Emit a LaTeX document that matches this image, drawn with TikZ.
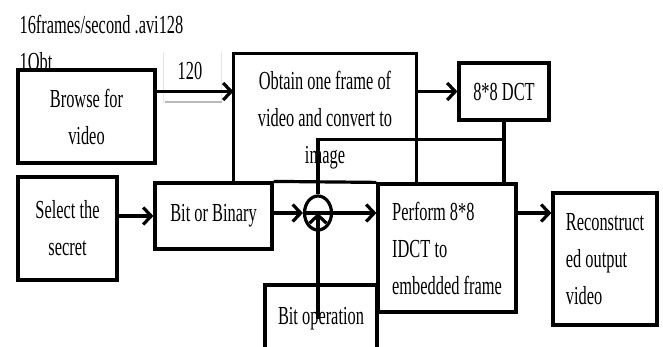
\documentclass[tikz,border=0pt]{standalone}
\usepackage{fontspec}
\setmainfont{Liberation Serif}[FakeStretch=0.63]
\usetikzlibrary{arrows.meta,shapes.geometric,calc,positioning}

\tikzset{
  block/.style={draw, fill=white, line width=3.2pt, inner sep=0pt, align=center,
                font=\fontsize{26}{37}\selectfont},
  plain/.style={inner sep=0pt, font=\fontsize{26}{37}\selectfont},
}

\begin{document}
\begin{tikzpicture}[x=1pt, y=-1pt, >={Straight Barb[length=8pt,width=17pt]}, line width=3.2pt]
    \useasboundingbox (0,0) rectangle (663,347);

    % text left over above the boxes
    \node[plain, anchor=base west]  (rate)   at (18,34)      {16frames/second .avi128};
    \node[plain, anchor=base west]  (bits)   at (18,71)      {1Obt};
    \draw[gray!20, line width=0.6pt] (163,52) -- (163,103) (221,52) -- (221,103);
    \draw[gray!55, line width=2pt]   (165,102) -- (222,102);
    \node[plain, anchor=base]       (size)   at (190,80)     {120};

    % blocks
    \node[block, minimum width=137pt, minimum height=93pt]  (browse) at (86.5,116.5) {Browse for\\video};
    \node[plain, align=center, minimum width=180pt, minimum height=130pt] (obtain) at (325,120)
        {Obtain one frame of\\video and convert to\\image};
    \node[block, minimum width=90pt, minimum height=57pt]   (dct)    at (504,91.5)   {8*8 DCT};
    \node[block, minimum width=99pt, minimum height=103pt]  (select) at (67.5,228.5) {Select the\\secret};
    \node[block, minimum width=117pt, minimum height=66pt]  (bitbin) at (213.5,216)  {Bit or Binary};
    \node[block, ellipse, minimum width=27pt, minimum height=34pt] (xor) at (318,213) {};
    \node[block, minimum width=112pt, minimum height=67pt]  (bitop)  at (321,318.5)  {Bit operation};
    \node[block, align=left, minimum width=138pt, minimum height=128pt] (perform) at (447,248)
        {Perform 8*8\\IDCT to\\embedded frame};
    \node[block, align=left, minimum width=104pt, minimum height=132pt] (recon) at (605,259)
        {Reconstruct\\ed output\\video};

    % open box round obtain
    \draw (obtain.west |- bitbin.north) -- (obtain.north west) -- (obtain.north east) -- (obtain.east |- perform.north);
    \path (dct.south) ++(0,18) coordinate (junc);

    % connectors
    \draw[->] (browse.east |- dct) -- (obtain.west |- dct);
    \draw[->] (obtain.east |- dct) -- (dct.west);
    \draw (dct.south) -- (junc |- perform.north);
    \draw (junc) -| (xor.north);
    \draw (bitbin.north east) -- (perform.north west);
    \draw[->] (select.east |- bitbin) -- (bitbin.west);
    \draw[->] (bitbin.east |- xor) -- (xor.west);
    \draw[->] (xor.west) -- (perform.west |- xor);
    \draw[->] (xor |- bitop) -- (xor.center);
    \draw[->] (perform.east |- xor) -- (recon.west |- xor);
\end{tikzpicture}
\end{document}
